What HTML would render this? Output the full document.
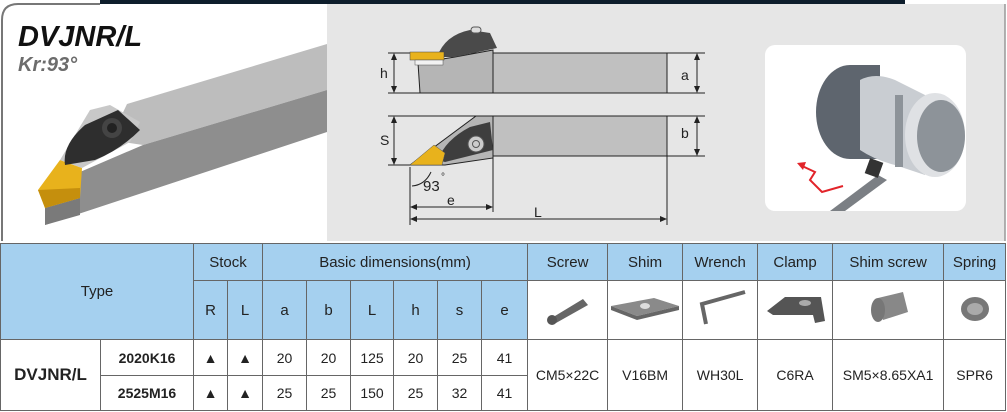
<!DOCTYPE html>
<html><head><meta charset="utf-8"><style>
*{margin:0;padding:0;box-sizing:border-box}
body{width:1007px;height:412px;background:#fff;position:relative;overflow:hidden;font-family:"Liberation Sans",Arial,sans-serif}
.abs{position:absolute}
table{position:absolute;left:0;top:243px;border-collapse:collapse;table-layout:fixed;width:1005px}
td{border:1px solid #666;text-align:center;font-size:14px;color:#222;padding:0}
.h{background:#a5d0ef;font-size:15px}
.dot{border-bottom:1px dashed #999}
.b{font-weight:bold}
</style></head><body>
<svg class="abs" style="left:0;top:0" width="1007" height="243">
<rect x="100" y="0" width="805" height="4" fill="#0e1e2c"/>
<rect x="327" y="4" width="678" height="237" fill="#e6e6e6"/>
<path d="M2 241 V20 Q2 4 18 4 H100" fill="none" stroke="#777" stroke-width="2"/>
<line x1="1005" y1="4" x2="1005" y2="241" stroke="#999" stroke-width="1.5"/>
<!-- shank -->
<polygon points="127,104 327,44 327,90 143,145 110,140" fill="#bdbdbd"/>
<polygon points="143,145 327,90 327,132 45,225 45,208 80,198 80,172 143,145" fill="#8e8e8e"/>
<polygon points="45,208 80,198 80,215 45,225" fill="#7a7a7a"/>
<polygon points="38,190 60,160 82,168 80,198 45,208" fill="#e8b21c"/>
<polygon points="38,190 45,208 80,198 80,188" fill="#c58f0d"/>
<polygon points="60,160 90,110 110,105 140,122 130,142 82,168" fill="#c8c8c8"/>
<path d="M65 165 Q62 145 85 125 L118 110 L140 130 Q120 150 95 160 Z" fill="#2e2e2e"/>
<circle cx="112" cy="128" r="10" fill="#444"/><circle cx="112" cy="128" r="5" fill="#222"/>
<text x="18" y="46" font-size="29" font-weight="bold" font-style="italic" fill="#111">DVJNR/L</text>
<text x="18" y="71" font-size="20" font-weight="bold" font-style="italic" fill="#6c6c6c">Kr:93°</text>
<!-- drawing top -->
<g stroke="#222" stroke-width="1" fill="none">
<line x1="388" y1="53" x2="705" y2="53"/><line x1="388" y1="93" x2="705" y2="93"/>
<line x1="394" y1="56" x2="394" y2="90"/><line x1="697" y1="56" x2="697" y2="90"/>
<line x1="388" y1="116" x2="705" y2="116"/><line x1="388" y1="165" x2="410" y2="165"/><line x1="590" y1="156" x2="705" y2="156"/>
<line x1="394" y1="119" x2="394" y2="162"/><line x1="697" y1="119" x2="697" y2="153"/>
<line x1="410" y1="167" x2="410" y2="225"/><line x1="493" y1="156" x2="493" y2="212"/><line x1="667" y1="156" x2="667" y2="225"/>
<line x1="413" y1="207" x2="490" y2="207"/><line x1="413" y1="219" x2="664" y2="219"/>
<path d="M412 186 Q425 185 431 172"/>
</g>
<g fill="#222">
<polygon points="394,53 391,60 397,60"/><polygon points="394,93 391,86 397,86"/>
<polygon points="697,53 694,60 700,60"/><polygon points="697,93 694,86 700,86"/>
<polygon points="394,116 391,123 397,123"/><polygon points="394,165 391,158 397,158"/>
<polygon points="697,116 694,123 700,123"/><polygon points="697,156 694,149 700,149"/>
<polygon points="410,207 417,204 417,210"/><polygon points="493,207 486,204 486,210"/>
<polygon points="410,219 417,216 417,222"/><polygon points="667,219 660,216 660,222"/>
</g>
<rect x="493" y="53" width="174" height="40" fill="#c0c0c0" stroke="#222"/>
<polygon points="418,63 455,57 493,50 493,93 420,93" fill="#b5b5b5" stroke="#222"/>
<path d="M437 57 Q445 35 470 30 L490 33 L497 48 L455 57 Z" fill="#4a4a4a"/>
<rect x="471" y="27" width="10" height="6" rx="3" fill="#ddd" stroke="#555"/>
<rect x="410" y="52" width="34" height="8" fill="#e8b21c" stroke="#444" stroke-width=".5"/>
<rect x="415" y="60" width="28" height="5" fill="#f2f2f2" stroke="#555" stroke-width=".5"/>
<rect x="493" y="116" width="174" height="40" fill="#c0c0c0" stroke="#222"/>
<polygon points="410,165 476,116 493,116 493,158 445,165" fill="#b5b5b5" stroke="#222"/>
<path d="M438 160 Q445 140 470 127 L490 122 L493 150 L445 162 Z" fill="#3e3e3e"/>
<circle cx="476" cy="144" r="8" fill="#ccc" stroke="#555"/><circle cx="476" cy="144" r="3.5" fill="none" stroke="#555"/>
<polygon points="410,165 434,145 445,153 442,165" fill="#e8b21c" stroke="#555" stroke-width=".5"/>
<g font-size="14" fill="#222">
<text x="380" y="78">h</text><text x="380" y="145">S</text><text x="681" y="80">a</text><text x="681" y="138">b</text>
<text x="423" y="191" font-size="15">93</text><text x="441" y="180" font-size="10">°</text>
<text x="447" y="205">e</text><text x="534" y="217">L</text>
</g>
<!-- right picture -->
<rect x="765" y="45" width="201" height="166" rx="10" fill="#fff"/>
<ellipse cx="850" cy="112" rx="34" ry="47" fill="#5e656e"/>
<rect x="850" y="65" width="30" height="94" fill="#5e656e"/>
<path d="M860 80 Q875 72 895 80 L925 95 L925 175 L895 165 Q875 160 860 150 Z" fill="#c9cdd2"/>
<ellipse cx="935" cy="135" rx="30" ry="42" fill="#dfe1e4"/>
<rect x="895" y="95" width="8" height="72" fill="#8d9399"/>
<ellipse cx="941" cy="136" rx="24" ry="36" fill="#8d9399"/>
<polygon points="830,211 878,175 887,180 845,211" fill="#7b7f84"/>
<rect x="867" y="160" width="14" height="16" fill="#333" transform="rotate(20 874 168)"/>
<polyline points="800,165 815,172 810,180 822,192 843,186" fill="none" stroke="#e2242a" stroke-width="2"/>
<polygon points="797,163 806,162 803,170" fill="#e2242a"/>
</svg>
<table>
<colgroup><col style="width:100px"><col style="width:93px"><col style="width:34px"><col style="width:35px"><col style="width:44px"><col style="width:44px"><col style="width:43px"><col style="width:44px"><col style="width:44px"><col style="width:46px"><col style="width:80px"><col style="width:75px"><col style="width:75px"><col style="width:75px"><col style="width:111px"><col style="width:62px"></colgroup>
<tr style="height:37px"><td class="h" colspan="2" rowspan="2">Type</td><td class="h" colspan="2">Stock</td><td class="h" colspan="6">Basic dimensions(mm)</td><td class="h">Screw</td><td class="h">Shim</td><td class="h">Wrench</td><td class="h">Clamp</td><td class="h">Shim screw</td><td class="h">Spring</td></tr>
<tr style="height:59px"><td class="h">R</td><td class="h">L</td><td class="h">a</td><td class="h">b</td><td class="h">L</td><td class="h">h</td><td class="h">s</td><td class="h">e</td>
<td><svg width="60" height="40"><polygon points="12,30 45,10 50,16 18,34" fill="#666"/><circle cx="14" cy="31" r="5" fill="#555"/></svg></td>
<td><svg width="72" height="30"><polygon points="2,12 45,4 70,12 28,22" fill="#8a8a8a"/><polygon points="2,12 28,22 70,12 70,16 28,26 2,16" fill="#666"/><ellipse cx="36" cy="12" rx="5" ry="3" fill="#ddd"/></svg></td>
<td><svg width="60" height="45"><polyline points="55,6 12,18 16,38" fill="none" stroke="#666" stroke-width="4"/></svg></td>
<td><svg width="65" height="40"><polygon points="4,22 22,8 58,8 62,32 52,34 50,26 10,26" fill="#555"/><ellipse cx="42" cy="14" rx="6" ry="3" fill="#aaa"/></svg></td>
<td><svg width="60" height="45"><polygon points="20,12 45,6 50,26 25,34" fill="#888"/><ellipse cx="20" cy="24" rx="7" ry="12" fill="#777"/></svg></td>
<td><svg width="40" height="40"><ellipse cx="20" cy="20" rx="14" ry="12" fill="#777"/><ellipse cx="20" cy="20" rx="8" ry="6" fill="#aaa"/></svg></td></tr>
<tr style="height:36px"><td class="b" rowspan="2" style="font-size:17px">DVJNR/L</td><td class="b dot">2020K16</td><td class="dot">▲</td><td class="dot">▲</td><td class="dot">20</td><td class="dot">20</td><td class="dot">125</td><td class="dot">20</td><td class="dot">25</td><td class="dot">41</td>
<td rowspan="2">CM5×22C</td><td rowspan="2">V16BM</td><td rowspan="2">WH30L</td><td rowspan="2">C6RA</td><td rowspan="2">SM5×8.65XA1</td><td rowspan="2">SPR6</td></tr>
<tr style="height:35px"><td class="b">2525M16</td><td>▲</td><td>▲</td><td>25</td><td>25</td><td>150</td><td>25</td><td>32</td><td>41</td></tr>
</table>
</body></html>
